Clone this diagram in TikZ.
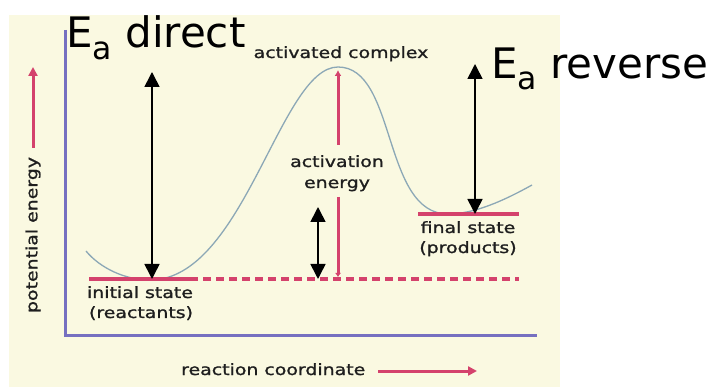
\documentclass[tikz,border=0pt]{standalone}
\usepackage{fontspec}
\usetikzlibrary{arrows.meta}
\newfontfamily\bigf{DejaVu Sans}
\newfontfamily\pixf[FakeStretch=1.22,FakeBold=1.2]{DejaVu Sans}
\definecolor{cream}{RGB}{250,249,225}
\definecolor{axisblue}{RGB}{118,112,192}
\definecolor{pinkred}{RGB}{212,66,108}
\definecolor{curvec}{RGB}{140,168,182}
\definecolor{pixtext}{RGB}{30,30,30}
\begin{document}
\begin{tikzpicture}[x=1pt,y=-1pt,
  pix/.style={font=\pixf\fontsize{15.5}{18}\selectfont, text=pixtext, inner sep=0pt},
  big/.style={font=\bigf\fontsize{42}{42}\selectfont, inner sep=0pt},
  redl/.style={draw=pinkred, line width=3.2pt},
  redarrow/.style={draw=pinkred, line width=3pt, -{Triangle[width=9pt,length=9pt]}},
  blk/.style={draw=black, line width=1.6pt, {Triangle[width=15pt,length=15pt]}-{Triangle[width=15pt,length=15pt]}},
]
\useasboundingbox (0,0) rectangle (715,387);
\fill[white] (0,0) rectangle (715,387);
\fill[cream] (9,15) rectangle (560,387);

% axes
\coordinate (ytop) at (65,30);
\coordinate (origin) at (65,336);
\coordinate (xend) at (537,336);
\draw[axisblue, line width=3pt] (ytop) -- (origin) -- (xend);

% energy curve
\coordinate (cStart) at (86,251);
\coordinate (cMin1) at (150,280);
\coordinate (peak) at (338,67);
\coordinate (cMin2) at (448,214);
\coordinate (cEnd) at (532,185);
\draw[curvec, line width=1.3pt] (cStart) .. controls (100,268) and (125,280) .. (cMin1)
  .. controls (244,280) and (280,67) .. (peak)
  .. controls (397,67) and (382,214) .. (cMin2)
  .. controls (475,214) and (505,200) .. (cEnd);

% state levels
\coordinate (i0) at (89,279);
\coordinate (i1) at (190,279);
\coordinate (iend) at (519,279);
\draw[redl] (i0) -- (i1);
\draw[redl, dash pattern=on 8pt off 5pt] (i1) -- (iend);
\coordinate (f0) at (418,214);
\coordinate (f1) at (519,214);
\draw[redl] (f0) -- (f1);

% activation energy
\node[pix, anchor=base] (act1) at (337,167) {activation};
\node[pix, anchor=base] (act2) at (337,188) {energy};
\coordinate (aeA) at (338,145);
\coordinate (aeTop) at (338,70);
\coordinate (aeB) at (338,197);
\coordinate (aeBot) at (338,277);
\draw[draw=pinkred, line width=3pt, -{Latex[length=6pt,width=7pt]}] (aeA) -- (aeTop);
\draw[draw=pinkred, line width=3pt, -{Latex[length=4pt,width=6pt]}] (aeB) -- (aeBot);

% black double arrows
\coordinate (dTop) at (152,72);
\coordinate (dBot) at (152,279);
\draw[blk] (dTop) -- (dBot);
\coordinate (rTop) at (475,64);
\coordinate (rBot) at (475,214);
\draw[blk] (rTop) -- (rBot);
\coordinate (sTop) at (318,207);
\coordinate (sBot) at (318,279);
\draw[blk] (sTop) -- (sBot);

% axis labels and arrows
\coordinate (peS) at (33,148);
\coordinate (peE) at (33,67);
\draw[redarrow] (peS) -- (peE);
\node[pix, rotate=90] (pe) at (33,235) {potential energy};
\node[pix, anchor=base west] (rc) at (181,375) {reaction coordinate};
\coordinate (rcS) at (378,371);
\coordinate (rcE) at (477,371);
\draw[redarrow] (rcS) -- (rcE);

% state labels
\node[pix, anchor=base] (ac) at (341,58) {activated complex};
\node[pix, anchor=base] (is1) at (140,298) {initial state};
\node[pix, anchor=base] (is2) at (141,318) {(reactants)};
\node[pix, anchor=base] (fs1) at (468,233) {final state};
\node[pix, anchor=base] (fs2) at (468,253) {(products)};

% big labels
\node[big, anchor=base west] (ead) at (66,48) {E\raisebox{-12pt}{\fontsize{31.5}{31.5}\selectfont a} direct};
\node[big, anchor=base west] (ear) at (491,79) {E\raisebox{-11pt}{\fontsize{31.5}{31.5}\selectfont a} reverse};
\end{tikzpicture}
\end{document}
